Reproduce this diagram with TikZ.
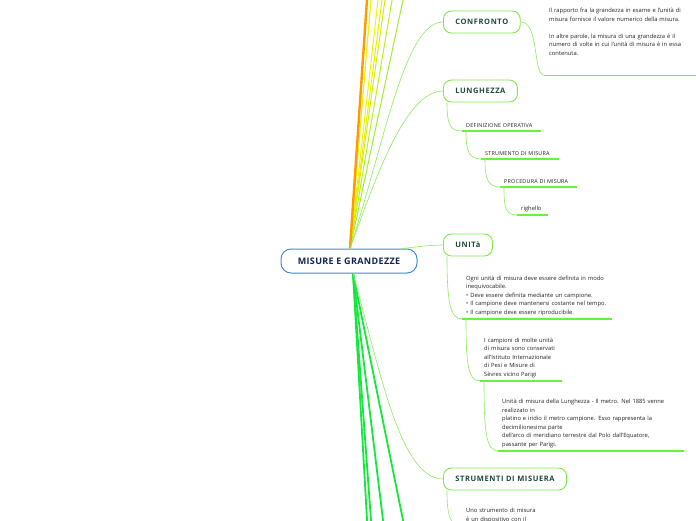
\documentclass[tikz,border=0pt]{standalone}
\usepackage{fontspec}
\setmainfont{Open Sans}
\definecolor{lgreen}{HTML}{8CEB5A}
\definecolor{ugreen}{HTML}{6CF03C}
\definecolor{nborder}{HTML}{7EE84A}
\definecolor{ttext}{HTML}{1D4A3C}
\definecolor{cblue}{HTML}{3F8FD2}
\definecolor{ctext}{HTML}{13254F}
\definecolor{bgreen}{HTML}{14E83A}
\definecolor{orng}{HTML}{FF9A00}
\definecolor{yel}{HTML}{F5F200}
\definecolor{yel2}{HTML}{E6F200}
\definecolor{ygreen}{HTML}{D0F010}
\definecolor{ygreen2}{HTML}{B8F020}
\definecolor{ygreen3}{HTML}{A0EE30}
\definecolor{txt}{HTML}{222222}
\begin{document}
\begin{tikzpicture}[x=1pt,y=-1pt,
  central/.style={draw=cblue, line width=1pt, rounded corners=10pt, fill=white,
    minimum height=24pt, minimum width=136pt, inner xsep=10pt,
    font=\fontsize{9}{10}\selectfont\bfseries\addfontfeature{LetterSpace=4}, text=ctext},
  topic/.style={draw=nborder, line width=0.9pt, rounded corners=8pt, fill=white,
    minimum height=22pt, inner xsep=12pt, anchor=west,
    font=\fontsize{7.5}{9}\selectfont\bfseries\addfontfeature{LetterSpace=8}, text=ttext},
  leaf/.style={inner xsep=4pt, inner ysep=3pt, align=left, anchor=south west,
    font=\fontsize{5.8}{8.5}\selectfont, text=txt},
  capleaf/.style={leaf, font=\fontsize{5.4}{8}\selectfont\addfontfeature{LetterSpace=4}},
  uline/.style={draw=ugreen, line width=1.5pt},
  conn/.style={draw=lgreen, line width=0.6pt},
  upline/.style={line width=1pt},
  downline/.style={draw=bgreen, line width=1.8pt}]
\useasboundingbox (0,0) rectangle (696,520);
\clip (0,0) rectangle (696,520);

% central node
\node[central] (c) at (349,261) {MISURE E GRANDEZZE};

% off-canvas ends of the branches leaving the picture
\coordinate (o1) at (367.3,-5);
\coordinate (o2) at (371.4,-5);
\coordinate (o3) at (378.6,-5);
\coordinate (o4) at (382.6,-5);
\coordinate (o5) at (385.7,-5);
\coordinate (o6) at (392.9,-5);
\coordinate (o7) at (404.1,-5);
\coordinate (b1) at (367.6,530);
\coordinate (b2) at (371.7,530);
\coordinate (b3) at (384.2,530);
\coordinate (b4) at (405.0,530);

% upward branches
\draw[upline, draw=ygreen3] ([xshift=1pt]c.north) -- (o7);
\draw[upline, draw=ygreen2] ([xshift=1pt]c.north) -- (o6);
\draw[upline, draw=ygreen] ([xshift=1pt]c.north) -- (o5);
\draw[upline, draw=yel2] ([xshift=1pt]c.north) -- (o4);
\draw[upline, draw=yel] ([xshift=1pt]c.north) -- (o3);
\draw[upline, draw=yel, line width=1.2pt] ([xshift=1pt]c.north) -- (o2);
\draw[draw=orng, line width=2.4pt] ([xshift=1pt]c.north) -- (o1);

% downward branches
\draw[downline] ([xshift=4pt]c.south) -- (b1);
\draw[downline] ([xshift=4pt]c.south) -- (b2);
\draw[downline] ([xshift=4pt]c.south) -- (b3);
\draw[downline] ([xshift=4pt]c.south) -- (b4);

% topic nodes
\node[topic] (conf) at (443,22) {CONFRONTO};
\node[topic] (lung) at (443,91) {LUNGHEZZA};
\node[topic] (unit) at (443,245) {UNITà};
\node[topic] (strm) at (443,479) {STRUMENTI DI MISUERA};

% connectors from the central node
\draw[conn] ([xshift=1pt]c.north) .. controls (385,140) and (405,22) .. (conf.west);
\draw[conn] ([xshift=1pt]c.north) .. controls (375,180) and (405,91) .. (lung.west);
\draw[conn] ([xshift=53pt]c.north) .. controls (418,247) and (428,245) .. (unit.west);
\draw[conn] ([xshift=4pt]c.south) .. controls (380,370) and (400,479) .. (strm.west);

% CONFRONTO
\node[leaf, text width=160pt] (cf) at (545,75.5) {Il rapporto fra la grandezza in esame e l'unità di\\
misura fornisce il valore numerico della misura.\\[8.5pt]
In altre parole, la misura di una grandezza è il\\
numero di volte in cui l'unità di misura è in essa\\
contenuta.\rule[-17pt]{0pt}{17pt}};
\draw[uline] (cf.south west) -- (cf.south east);
\draw[conn] (conf.east) .. controls (540,22) and (532,75.5) .. (cf.south west);

% LUNGHEZZA chain
\node[capleaf, text width=71pt] (d1) at (462,131) {DEFINIZIONE OPERATIVA};
\node[capleaf, text width=70pt] (d2) at (481,159) {STRUMENTO DI MISURA};
\node[capleaf, text width=69pt] (d3) at (500,187) {PROCEDURA DI MISURA};
\node[leaf, text width=23pt] (d4) at (517,215) {righello};
\foreach \n in {d1,d2,d3,d4} \draw[uline] (\n.south west) -- (\n.south east);
\draw[conn] ([xshift=4pt]lung.south west) .. controls +(0,22) and +(-12,0) .. (d1.south west);
\draw[conn] ([xshift=4pt]d1.south west) .. controls +(0,20) and +(-12,0) .. (d2.south west);
\draw[conn] ([xshift=4pt]d2.south west) .. controls +(0,20) and +(-12,0) .. (d3.south west);
\draw[conn] ([xshift=4pt]d3.south west) .. controls +(0,20) and +(-12,0) .. (d4.south west);

% UNITA chain
\node[leaf, text width=142pt] (u1) at (462,319) {Ogni unità di misura deve essere definita in modo\\
inequivocabile.\\
• Deve essere definita mediante un campione.\\
• Il campione deve mantenersi costante nel tempo.\\
• Il campione deve essere riproducibile.};
\node[leaf, text width=74pt] (u2) at (480,381) {I campioni di molte unità\\
di misura sono conservati\\
all'Istituto Internazionale\\
di Pesi e Misure di\\
Sèvres vicino Parigi};
\node[leaf, text width=178pt] (u3) at (498,451) {Unità di misura della Lunghezza - Il metro. Nel 1885 venne\\
realizzato in\\
platino e iridio il metro campione. Esso rappresenta la\\
decimilionesima parte\\
dell'arco di meridiano terrestre dal Polo dall'Equatore,\\
passante per Parigi.};
\foreach \n in {u1,u2,u3} \draw[uline] (\n.south west) -- (\n.south east);
\draw[conn] ([xshift=4pt]unit.south west) .. controls +(0,45) and +(-12,0) .. (u1.south west);
\draw[conn] ([xshift=4pt]u1.south west) .. controls +(0,45) and +(-12,0) .. (u2.south west);
\draw[conn] ([xshift=4pt]u2.south west) .. controls +(0,50) and +(-12,0) .. (u3.south west);

% STRUMENTI
\node[leaf, anchor=north west, text width=120pt] (s1) at (462,505) {Uno strumento di misura\\
è un dispositivo con il};
\draw[conn] ([xshift=4pt]strm.south west) .. controls +(0,25) and +(-12,0) .. (s1.south west);
\end{tikzpicture}
\end{document}
